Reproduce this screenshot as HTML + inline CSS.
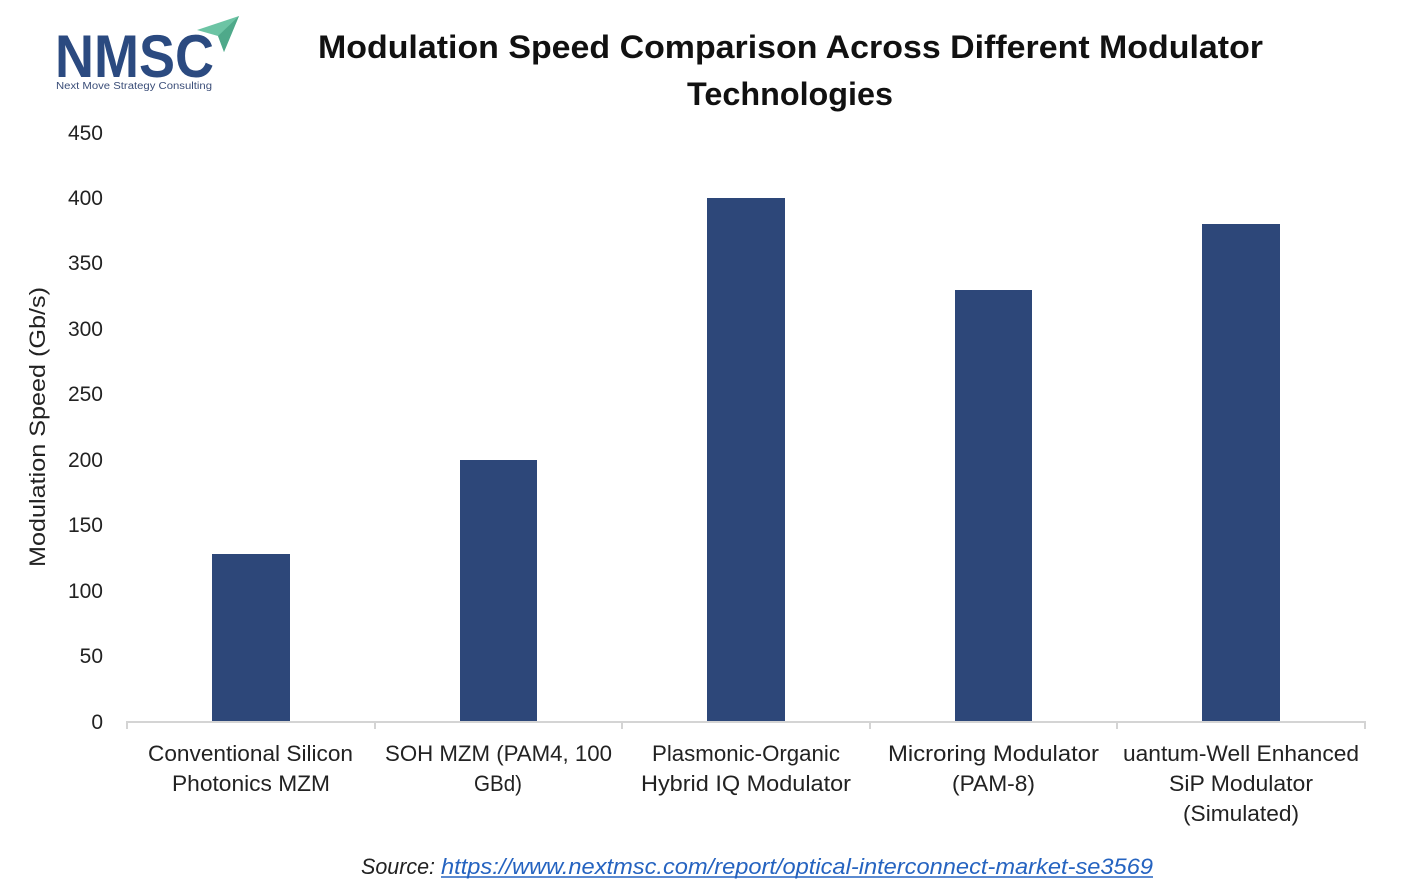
<!DOCTYPE html>
<html>
<head>
<meta charset="utf-8">
<style>
html,body{margin:0;padding:0;background:#fff;}
svg{display:block;}
text{font-family:"Liberation Sans",sans-serif;}
</style>
</head>
<body>
<svg width="1427" height="889" viewBox="0 0 1427 889" xmlns="http://www.w3.org/2000/svg">
<rect width="1427" height="889" fill="#fff"/>

<!-- Logo -->
<polygon points="197,30 239,16 224,52 218,36" fill="#6cc4a4"/>
<polygon points="218,36 239,16 224,52" fill="#4fa98a"/>
<text x="55" y="77" font-size="60" font-weight="bold" fill="#2b4a80" textLength="159" lengthAdjust="spacingAndGlyphs">NMSC</text>
<text x="56" y="89" font-size="10" fill="#3a4d78" textLength="156" lengthAdjust="spacingAndGlyphs">Next Move Strategy Consulting</text>

<!-- Title -->
<text x="318" y="58" font-size="32" font-weight="bold" fill="#111" textLength="945" lengthAdjust="spacingAndGlyphs">Modulation Speed Comparison Across Different Modulator</text>
<text x="687" y="105" font-size="32" font-weight="bold" fill="#111" textLength="206" lengthAdjust="spacingAndGlyphs">Technologies</text>

<!-- Y tick labels -->
<g font-size="21" fill="#222" text-anchor="end">
<text x="103" y="140">450</text>
<text x="103" y="205">400</text>
<text x="103" y="270">350</text>
<text x="103" y="336">300</text>
<text x="103" y="401">250</text>
<text x="103" y="467">200</text>
<text x="103" y="532">150</text>
<text x="103" y="598">100</text>
<text x="103" y="663">50</text>
<text x="103" y="729">0</text>
</g>

<!-- Y axis title -->
<text transform="translate(45,427) rotate(-90)" x="0" y="0" font-size="22" fill="#222" text-anchor="middle" textLength="280" lengthAdjust="spacingAndGlyphs">Modulation Speed (Gb/s)</text>

<!-- Bars -->
<g fill="#2d4779">
<rect x="212" y="554" width="78" height="167"/>
<rect x="460" y="460" width="77" height="261"/>
<rect x="707" y="198" width="78" height="523"/>
<rect x="955" y="290" width="77" height="431"/>
<rect x="1202" y="224" width="78" height="497"/>
</g>

<!-- Axis -->
<g stroke="#d4d4d4" stroke-width="2" fill="none">
<line x1="127" y1="722" x2="1365" y2="722"/>
<line x1="127" y1="721" x2="127" y2="729"/>
<line x1="375" y1="721" x2="375" y2="729"/>
<line x1="622" y1="721" x2="622" y2="729"/>
<line x1="870" y1="721" x2="870" y2="729"/>
<line x1="1117" y1="721" x2="1117" y2="729"/>
<line x1="1365" y1="721" x2="1365" y2="729"/>
</g>

<!-- Category labels -->
<g font-size="22" fill="#222">
<text x="148" y="761" textLength="205" lengthAdjust="spacingAndGlyphs">Conventional Silicon</text>
<text x="172" y="791" textLength="158" lengthAdjust="spacingAndGlyphs">Photonics MZM</text>
<text x="385" y="761" textLength="227" lengthAdjust="spacingAndGlyphs">SOH MZM (PAM4, 100</text>
<text x="474" y="791" textLength="48" lengthAdjust="spacingAndGlyphs">GBd)</text>
<text x="652" y="761" textLength="188" lengthAdjust="spacingAndGlyphs">Plasmonic-Organic</text>
<text x="641" y="791" textLength="210" lengthAdjust="spacingAndGlyphs">Hybrid IQ Modulator</text>
<text x="888" y="761" textLength="211" lengthAdjust="spacingAndGlyphs">Microring Modulator</text>
<text x="952" y="791" textLength="83" lengthAdjust="spacingAndGlyphs">(PAM-8)</text>
<text x="1123" y="761" textLength="236" lengthAdjust="spacingAndGlyphs">uantum-Well Enhanced</text>
<text x="1169" y="791" textLength="144" lengthAdjust="spacingAndGlyphs">SiP Modulator</text>
<text x="1183" y="821" textLength="116" lengthAdjust="spacingAndGlyphs">(Simulated)</text>
</g>

<!-- Source -->
<text x="361" y="874" font-size="22" font-style="italic" fill="#222" textLength="74" lengthAdjust="spacingAndGlyphs">Source:</text>
<text x="441" y="874" font-size="22" font-style="italic" fill="#2563c0" textLength="712" lengthAdjust="spacingAndGlyphs">https://www.nextmsc.com/report/optical-interconnect-market-se3569</text>
<line x1="441" y1="877" x2="1153" y2="877" stroke="#2563c0" stroke-width="1.5"/>
</svg>
</body>
</html>
